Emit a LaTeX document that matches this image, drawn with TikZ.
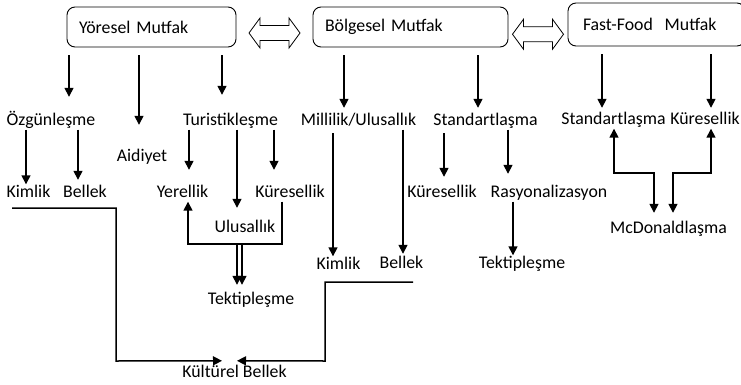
\documentclass[tikz,border=0pt]{standalone}
\usepackage{fontspec}
\setmainfont{Carlito}
\usetikzlibrary{shapes, arrows.meta, positioning, calc}

\begin{document}
\begin{tikzpicture}[
        x=1pt, y=1pt,
        font=\fontsize{17.8}{20}\selectfont,
        box/.style={draw, line width=0.9pt, rounded corners=8pt, minimum height=40pt,
                    inner xsep=12pt, inner ysep=0pt, align=left},
        lbl/.style={inner sep=0pt, text height=13pt, text depth=4pt},
        hollow/.style={draw, line width=0.8pt, fill=white},
        arr/.style={-{Triangle[length=9pt, width=9pt]}, line width=1.5pt},
        barr/.style={{Triangle[length=9pt, width=9pt]}-{Triangle[length=9pt, width=9pt]}, line width=1.5pt}
    ]
        \useasboundingbox (0,0) rectangle (741,384);

        % Three kitchen boxes
        \node[box, text width=145pt] (yor) at (151.5,357) {Yöresel Mutfak};
        \node[box, text width=171pt] (bol) at (410.5,357) {Bölgesel Mutfak};
        \node[box, text width=147pt, inner xsep=15pt, minimum height=43pt] (ff) at (656.5,359.5)
            {Fast-Food\ \ Mutfak};

        % Hollow double arrows between boxes
        \coordinate (l1) at ($(yor.east)!0.5!(bol.west)+(0,-6)$);
        \coordinate (l2) at ($(bol.east)!0.5!(ff.west)+(0,-8.5)$);
        \foreach \c in {l1,l2}
            \draw[hollow, shift={(\c)}] (-25.5,0) -- (-14.5,15) -- (-14.5,7.5) -- (14.5,7.5)
                -- (14.5,15) -- (25.5,0) -- (14.5,-15) -- (14.5,-7.5) -- (-14.5,-7.5)
                -- (-14.5,-15) -- cycle;

        % Second row
        \node[lbl] (oz)   at (51,263)    {Özgünleşme};
        \node[lbl] (aid)  at (142,227)   {Aidiyet};
        \node[lbl] (tur)  at (230.5,263) {Turistikleşme};
        \node[lbl] (mil)  at (358.5,263) {Millilik/Ulusallık};
        \node[lbl] (std)  at (485.5,263) {Standartlaşma};
        \node[lbl] (stdF) at (613.5,264) {Standartlaşma};
        \node[lbl] (kurF) at (705,264)   {Küresellik};

        % Third row
        \node[lbl] (kim1) at (28.5,191)  {Kimlik};
        \node[lbl] (bel1) at (85,191)    {Bellek};
        \node[lbl] (yer)  at (182.5,191) {Yerellik};
        \node[lbl] (kur1) at (290,191)   {Küresellik};
        \node[lbl] (kur2) at (442,191)   {Küresellik};
        \node[lbl] (ras)  at (549,191)   {Rasyonalizasyon};
        \node[lbl] (ulu)  at (245,156)   {Ulusallık};
        \node[lbl] (mcd)  at (668.5,155) {McDonaldlaşma};
        \node[lbl] (kim2) at (338.5,119) {Kimlik};
        \node[lbl] (bel2) at (401.5,120) {Bellek};
        \node[lbl] (tek2) at (522,120)   {Tektipleşme};
        \node[lbl] (tek1) at (251,84)    {Tektipleşme};
        \node[lbl] (kb)   at (234.5,11)  {Kültürel Bellek};

        % Arrows from the boxes
        \draw[arr, shorten <=8pt, shorten >=15.5pt] (yor.south -| 69,0)  -- (oz.north -| 69,0);
        \draw[arr, shorten <=8pt, shorten >=23.5pt] (yor.south -| 139,0) -- (aid.north -| 139,0);
        \draw[arr, shorten <=8pt, shorten >=17.5pt] (yor.south -| 222,0) -- (tur.north -| 222,0);
        \draw[arr, shorten <=8pt, shorten >=4.5pt]  (bol.south -| 344,0) -- (mil.north -| 344,0);
        \draw[arr, shorten <=8pt, shorten >=4.5pt]  (bol.south -| 478,0) -- (std.north -| 478,0);
        \draw[arr, shorten <=8pt, shorten >=3.5pt]  (ff.south -| 602,0)  -- (stdF.north -| 602,0);
        \draw[arr, shorten <=8pt, shorten >=3.5pt]  (ff.south -| 711,0)  -- (kurF.north -| 711,0);

        % Arrows between the labels
        \draw[arr] (oz.south -| 26,0) -- (kim1.north -| 26,0);
        \draw[arr, shorten >=4.5pt] (oz.south -| 78,0) -- (bel1.north -| 78,0);
        \draw[arr, shorten >=14.5pt] (tur.south -| 189,0) -- (yer.north -| 189,0);
        \draw[arr, shorten >=11.5pt] (tur.south -| 237,0) -- (ulu.north -| 237,0);
        \draw[arr, shorten >=14.5pt] (tur.south -| 274,0) -- (kur1.north -| 274,0);
        \draw[arr, shorten <=3.5pt] (mil.south -| 333,0) -- (kim2.north -| 333,0);
        \draw[arr, shorten >=1.5pt] (mil.south -| 403,0) -- (bel2.north -| 403,0);
        \draw[arr, shorten <=3.5pt, shorten >=7.5pt] (std.south -| 444,0) -- (kur2.north -| 444,0);
        \draw[arr, shorten >=10.5pt] (std.south -| 508,0) -- (ras.north -| 508,0);
        \draw[arr] (ras.south -| 513,0) -- (tek2.north -| 513,0);

        % Yerellik / Küresellik bracket into Tektipleşme
        \coordinate (tj) at (239.5,140);
        \draw[arr] (kur1.south -| 282,0) |- (tj) -- (188,140) -- (yer.south -| 188,0);
        \draw[arr, shorten >=6.5pt] ([xshift=-2.5pt]tj) -- (tek1.north -| 237,0);
        \draw[arr, shorten >=6.5pt] ([xshift=2.5pt]tj) -- (tek1.north -| 242,0);

        % McDonaldlaşma links
        \draw[barr, shorten >=7.5pt] (stdF.south -| 614,0) |- (654,211) -- (mcd.north -| 654,0);
        \draw[barr, shorten >=7.5pt] (kurF.south -| 711,0) |- (673,211) -- (mcd.north -| 673,0);

        % Into Kültürel Bellek
        \coordinate (kbl) at (12,176);
        \coordinate (kbr) at (413,102);
        \draw[arr] (kbl) -| (116,23) -- ([shift={(-12.5,3.5)}]kb.north);
        \draw[arr] (kbr) -| (325,23) -- ([shift={(2.5,3.5)}]kb.north);
    \end{tikzpicture}
\end{document}
